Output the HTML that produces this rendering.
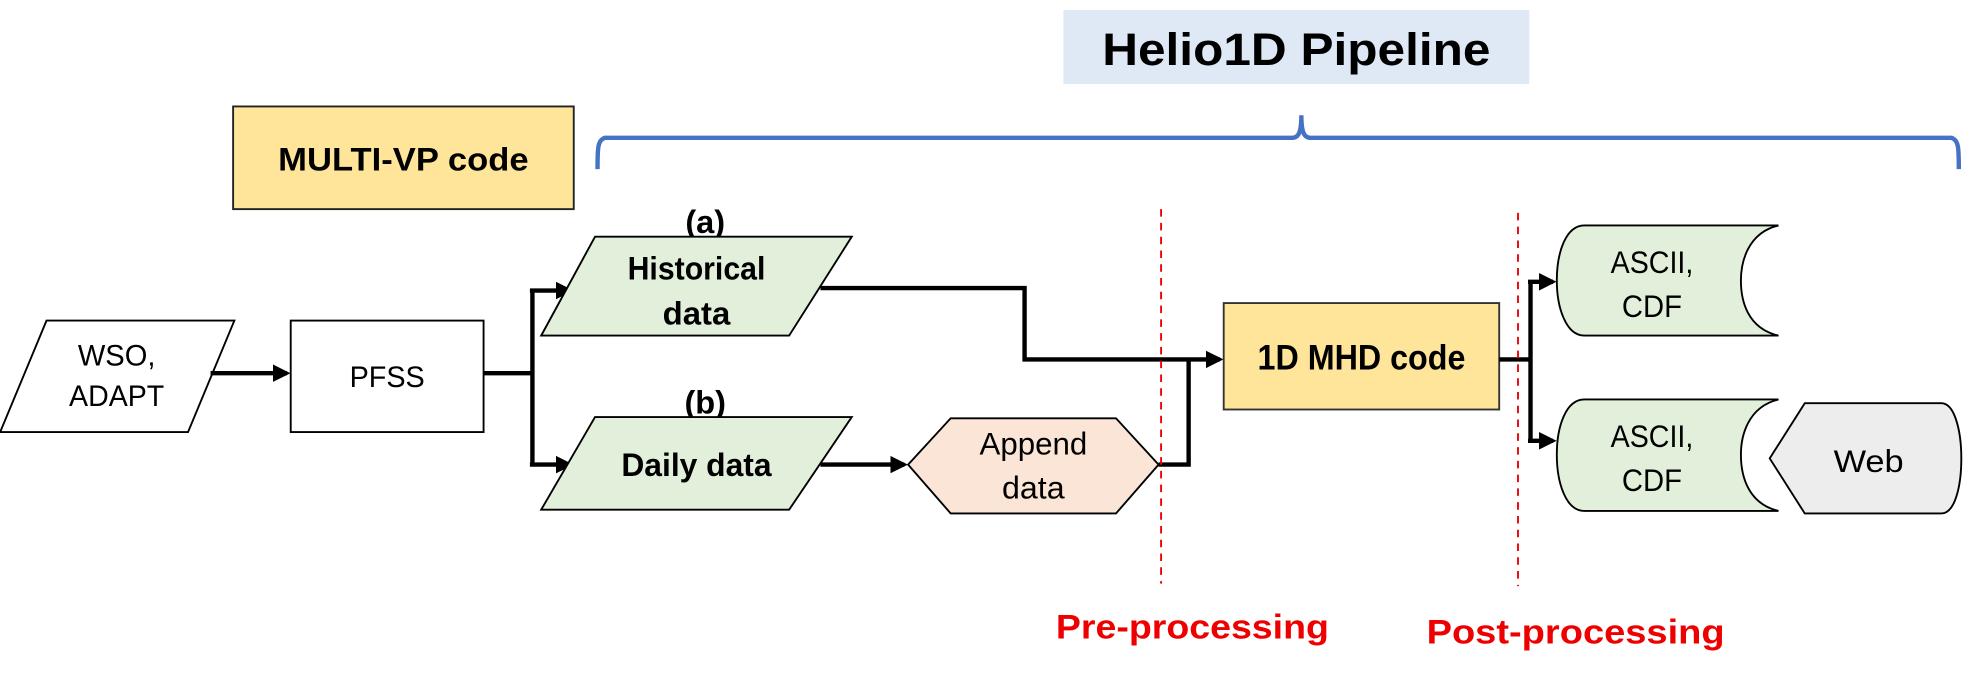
<!DOCTYPE html>
<html><head><meta charset="utf-8"><style>
html,body{margin:0;padding:0;background:#fff;}
svg{display:block;}
text{font-family:"Liberation Sans Narrow","Liberation Sans",sans-serif;}
</style></head><body>
<svg width="1964" height="675" viewBox="0 0 1568 539" xmlns="http://www.w3.org/2000/svg">
<defs>
<marker id="ar" markerWidth="4" markerHeight="4" refX="3.2" refY="2" orient="auto" markerUnits="strokeWidth">
<path d="M0,0 L4,2 L0,4 z" fill="#000"/>
</marker>
</defs>
<rect x="849" y="8" width="372" height="59" fill="#dee9f5"/>
<text x="1035" y="52" font-size="36" font-weight="bold" text-anchor="middle" textLength="310" lengthAdjust="spacingAndGlyphs" font-family="Liberation Sans">Helio1D Pipeline</text>
<path d="M477,135 C477,118 477,112 483,110 L1032,110 C1037,110 1039,105 1039,92 C1039,105 1041,110 1046,110 L1558,110 C1564,112 1564,118 1564,135" fill="none" stroke="#4472c4" stroke-width="3.5"/>
<rect x="186" y="85" width="272" height="82" fill="#fee599" stroke="#222" stroke-width="1.5"/>
<text x="322" y="136" font-size="26" font-weight="bold" text-anchor="middle" font-family="Liberation Sans" textLength="200" lengthAdjust="spacingAndGlyphs">MULTI-VP code</text>
<polygon points="37,256 187,256 150,345 0,345" fill="#fff" stroke="#000" stroke-width="1.5"/>
<text x="93" y="292" font-size="24" text-anchor="middle" textLength="62" lengthAdjust="spacingAndGlyphs">WSO,</text>
<text x="93" y="324" font-size="24" text-anchor="middle" textLength="76" lengthAdjust="spacingAndGlyphs">ADAPT</text>
<rect x="232" y="256" width="154" height="89" fill="#fff" stroke="#000" stroke-width="1.5"/>
<text x="309" y="309" font-size="24" text-anchor="middle" textLength="60" lengthAdjust="spacingAndGlyphs">PFSS</text>
<path d="M168,298 L229,298" stroke="#000" stroke-width="3.5" fill="none" marker-end="url(#ar)"/>
<path d="M386,298 L425,298 M425,232 L425,371" stroke="#000" stroke-width="3.5" fill="none"/>
<path d="M423,232 L455,232" stroke="#000" stroke-width="3.5" fill="none" marker-end="url(#ar)"/>
<path d="M423,371 L455,371" stroke="#000" stroke-width="3.5" fill="none" marker-end="url(#ar)"/>
<text x="563" y="186" font-size="26" font-weight="bold" text-anchor="middle">(a)</text>
<polygon points="475,189 680,189 630,268 432,268" fill="#e2efda" stroke="#000" stroke-width="1.5"/>
<text x="556" y="223" font-size="26" font-weight="bold" text-anchor="middle" textLength="110" lengthAdjust="spacingAndGlyphs">Historical</text>
<text x="556" y="259" font-size="26" font-weight="bold" text-anchor="middle" textLength="54" lengthAdjust="spacingAndGlyphs">data</text>
<text x="563" y="330" font-size="26" font-weight="bold" text-anchor="middle">(b)</text>
<polygon points="475,333 680,333 630,407 432,407" fill="#e2efda" stroke="#000" stroke-width="1.5"/>
<text x="556" y="380" font-size="26" font-weight="bold" text-anchor="middle" textLength="120" lengthAdjust="spacingAndGlyphs">Daily data</text>
<path d="M655,230 L818,230 L818,287 L974,287" stroke="#000" stroke-width="3.5" fill="none" marker-end="url(#ar)"/>
<path d="M655,371 L722,371" stroke="#000" stroke-width="3.5" fill="none" marker-end="url(#ar)"/>
<path d="M925,371 L949,371 L949,287" stroke="#000" stroke-width="3.5" fill="none"/>
<polygon points="725,371 759,334 891,334 925,371 891,410 759,410" fill="#fbe5d6" stroke="#000" stroke-width="1.5"/>
<text x="825" y="363" font-size="25" text-anchor="middle" textLength="86" lengthAdjust="spacingAndGlyphs">Append</text>
<text x="825" y="398" font-size="25" text-anchor="middle" textLength="50" lengthAdjust="spacingAndGlyphs">data</text>
<rect x="977" y="242" width="220" height="85" fill="#fee599" stroke="#333" stroke-width="1.5"/>
<text x="1087" y="295" font-size="28" font-weight="bold" text-anchor="middle" textLength="166" lengthAdjust="spacingAndGlyphs">1D MHD code</text>
<path d="M1197,287 L1222,287 M1222,225 L1222,352" stroke="#000" stroke-width="3.5" fill="none"/>
<path d="M1220,225 L1240,225" stroke="#000" stroke-width="3.5" fill="none" marker-end="url(#ar)"/>
<path d="M1220,352 L1240,352" stroke="#000" stroke-width="3.5" fill="none" marker-end="url(#ar)"/>
<path d="M1265,180 L1420,180 C1395,186 1390,210 1390,224 C1390,240 1395,262 1420,268 L1265,268 C1250,268 1243,245 1243,224 C1243,202 1250,180 1265,180 Z" fill="#e2efda" stroke="#000" stroke-width="1.5"/>
<text x="1319" y="218" font-size="25" text-anchor="middle" textLength="66" lengthAdjust="spacingAndGlyphs">ASCII,</text>
<text x="1319" y="253" font-size="25" text-anchor="middle" textLength="48" lengthAdjust="spacingAndGlyphs">CDF</text>
<path d="M1265,319 L1420,319 C1395,325 1390,349 1390,363 C1390,379 1395,402 1420,408 L1265,408 C1250,408 1243,385 1243,363 C1243,341 1250,319 1265,319 Z" fill="#e2efda" stroke="#000" stroke-width="1.5"/>
<text x="1319" y="357" font-size="25" text-anchor="middle" textLength="66" lengthAdjust="spacingAndGlyphs">ASCII,</text>
<text x="1319" y="392" font-size="25" text-anchor="middle" textLength="48" lengthAdjust="spacingAndGlyphs">CDF</text>
<path d="M1441,322 L1550,322 C1561,322 1566,345 1566,366 C1566,388 1561,410 1550,410 L1441,410 L1413,366 Z" fill="#ededed" stroke="#000" stroke-width="1.5"/>
<text x="1492" y="377" font-size="25" text-anchor="middle" textLength="56" lengthAdjust="spacingAndGlyphs">Web</text>
<path d="M927,167 L927,466" stroke="#e00" stroke-width="1.5" stroke-dasharray="6,5" fill="none"/>
<path d="M1212,170 L1212,468" stroke="#e00" stroke-width="1.5" stroke-dasharray="6,5" fill="none"/>
<text x="952" y="510" font-size="27" font-weight="bold" fill="#e00" text-anchor="middle" font-family="Liberation Sans" textLength="218" lengthAdjust="spacingAndGlyphs">Pre-processing</text>
<text x="1258" y="514" font-size="27" font-weight="bold" fill="#e00" text-anchor="middle" font-family="Liberation Sans" textLength="238" lengthAdjust="spacingAndGlyphs">Post-processing</text>
</svg>
</body></html>
